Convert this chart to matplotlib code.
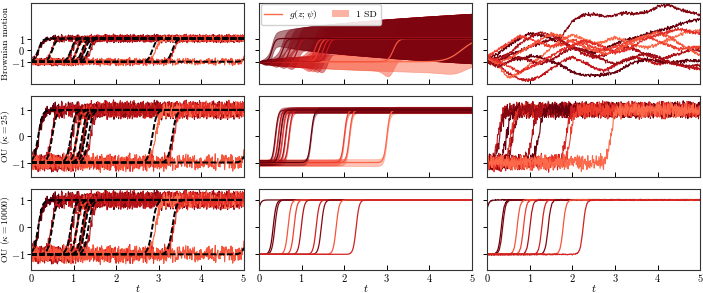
import numpy as np
import matplotlib
matplotlib.use("Agg")
import matplotlib.pyplot as plt
from matplotlib.lines import Line2D
from matplotlib.patches import Patch

plt.rcParams.update({
    "font.family": "serif",
    "font.serif": ["cmr10"],
    "mathtext.fontset": "cm",
    "axes.formatter.use_mathtext": True,
    "font.size": 8,
})

# time grid of the simulated paths
t = np.linspace(0.0, 5.0, 501)

# hand-read jitter values (used for the rough look of the sample paths)
jitter = [0.3, -0.8, 1.1, -0.2, 0.6, -1.3, 0.4, 0.9, -0.5, -1.0, 0.7, 0.1, -0.6, 1.4, -0.9,
          0.2, -0.3, 0.8, -1.2, 0.5, 1.0, -0.4, -0.7, 0.3, 1.2, -1.1, 0.0, 0.6, -0.8, 0.9,
          -0.2, -1.4, 0.7, 0.4, -0.5, 1.3, -0.9, 0.1, 0.5, -0.6, -1.0, 0.8, 0.2, -0.3, 1.1,
          -0.7, 0.6, -1.2, 0.3, 0.9, -0.1, -0.8, 1.0, -0.4, 0.5, -1.3, 0.2, 0.7, -0.6, 1.2,
          -0.9, -0.2, 0.4, 0.8, -1.1, 0.1, -0.5, 1.3, -0.3, 0.6, -0.7, 0.9, -1.0, 0.0, 0.5,
          -0.4, 1.1, -1.2, 0.3, -0.8, 0.7, 0.2, -0.6, 1.0, -0.1, -0.9, 0.6, -1.3, 0.8, 0.4,
          -0.2, 1.2, -0.7, -0.4, 0.9, -1.0, 0.1, 0.5, -0.5, 1.4, -0.8]

# left column: observed switching paths (same data in all three rows)
left_switch = [0.17, 0.5, 0.94, 1.08, 1.2, 1.27, 1.35, 2.85, 3.32, 5.1]
left_lag = [0.02, -0.02, 0.03, 0.0, 0.04, -0.03, 0.05, 0.08, 0.03, 0.0]
left_colors = [9, 5, 7, 2, 8, 4, 6, 0, 3, 1]

# middle column, Brownian motion prior: mean g(z; psi) with 1 SD band
mid1_switch = [0.3, 0.55, 0.72, 0.9, 1.3, 1.4, 1.5, 1.6, 3.15, 4.75]
mid1_width = [0.08, 0.1, 0.1, 0.1, 0.1, 0.1, 0.1, 0.1, 0.12, 0.35]
mid1_colors = [9, 8, 7, 6, 3, 2, 4, 5, 1, 0]

# middle column, OU kappa=25
mid2_switch = [0.38, 0.45, 0.5, 0.55, 0.62, 0.7, 1.22, 2.0, 2.12, 3.0]
mid2_sd = [0.1, 0.1, 0.1, 0.1, 0.1, 0.1, 0.1, 0.11, 0.11, 0.13]
mid2_colors = [8, 5, 9, 3, 6, 4, 9, 2, 1, 0]

# middle / right column, OU kappa=10000
mid3_switch = [-0.06, 0.33, 0.37, 0.68, 0.82, 0.99, 1.34, 1.46, 1.81, 2.28]
right3_switch = [-0.06, 0.33, 0.36, 0.7, 0.85, 1.0, 1.28, 1.43, 1.78, 2.25]
row3_colors = [9, 9, 8, 1, 2, 6, 4, 8, 1, 4]

# right column, OU kappa=25 samples
right2_switch = [0.25, 0.3, 0.45, 0.55, 0.6, 1.05, 1.2, 1.85, 1.95, 2.9]
right2_colors = [5, 8, 9, 3, 7, 6, 9, 4, 2, 0]

# right column, Brownian motion samples read every 0.25 time units
bm_times = np.arange(21) * 0.25
bm_paths = [
    [-0.9, -0.6, -0.4, -0.1, 0.3, 0.6, 0.9, 1.2, 2.5, 3.0, 3.1, 2.9, 3.0, 3.2, 3.1, 3.3, 3.7, 3.9, 3.5, 3.3, 3.0],
    [-0.8, -0.3, 0.4, 1.0, 1.4, 1.3, 1.0, 0.6, 0.2, 0.0, -0.2, 0.1, 0.5, 0.9, 1.1, 1.4, 1.6, 1.9, 2.2, 2.5, 2.6],
    [-1.0, -1.2, -2.0, -2.5, -2.6, -2.2, -1.6, -1.0, -0.6, -1.0, -1.5, -1.8, -1.3, -0.8, -0.6, -0.9, -1.2, -1.0, -1.3, -1.5, -1.6],
    [-0.7, -1.3, -2.4, -2.0, -1.2, -0.6, 0.2, 0.9, 1.3, 1.0, 0.6, 0.7, 1.1, 0.8, 0.4, 0.2, 0.5, 0.9, 1.3, 1.6, 1.7],
    [-1.0, -0.9, -0.6, -0.8, -0.5, -0.6, -1.0, -1.3, -1.9, -2.1, -2.2, -2.1, -1.9, -1.4, -1.0, -0.8, -0.9, -1.1, -1.0, -0.9, -0.9],
    [-0.5, 0.0, 0.6, 1.2, 1.0, 0.6, 0.3, 0.5, 0.9, 0.6, 0.2, 0.0, 0.3, 0.6, 0.9, 1.2, 0.8, 0.4, 0.1, 0.2, 0.3],
    [-1.2, -0.9, -0.3, 0.5, 1.1, 1.5, 1.3, 0.8, 0.2, -0.3, -0.6, -0.4, 0.0, 0.3, 0.0, -0.4, -0.8, -0.6, -0.3, 0.0, 0.0],
    [-0.8, -1.1, -0.7, -0.2, 0.3, 0.9, 1.4, 1.2, 0.7, 0.3, 0.0, -0.3, -0.1, 0.4, 0.9, 1.3, 1.5, 1.2, 0.6, 0.1, -0.5],
    [-1.0, -1.4, -1.0, -0.6, -0.9, -1.2, -0.8, -0.3, 0.2, 0.0, -0.4, -0.9, -1.2, -0.9, -0.5, -0.3, -0.6, -1.0, -1.2, -1.4, -1.3],
    [-0.6, -0.9, -1.4, -1.9, -1.5, -1.0, -0.5, 0.0, 0.4, 0.8, 0.6, 0.2, -0.2, 0.0, 0.5, 1.0, 1.3, 1.6, 1.8, 1.6, 1.4],
]
bm_colors = [8, 9, 5, 0, 9, 2, 6, 1, 7, 3]

row_labels = ["Brownian motion", r"OU ($\kappa = 25$)", r"OU ($\kappa = 10000$)"]
row_ylims = [(-2.9, 4.05), (-1.55, 1.53), (-1.58, 1.4)]

palette = plt.cm.Reds(np.linspace(0.5, 1.0, 10))
jit = np.array(jitter)


def rough(k, off):
    i = np.arange(t.size)
    a = jit[(i * 7 + k * 11 + off) % len(jit)]
    b = jit[(i * 5 + k * 17 + 3 * off) % 89]
    return (a + 0.6 * b) / 1.17


def switch(ts, w):
    return np.tanh((t - ts) / w)


fig = plt.figure(figsize=(7.03, 2.93), dpi=100)
axes = fig.subplots(3, 3, sharex=True, sharey="row")
fig.subplots_adjust(left=0.044, right=0.996, top=0.99, bottom=0.078, wspace=0.072, hspace=0.148)

# left column
for r in range(3):
    ax = axes[r, 0]
    for k, ts in enumerate(left_switch):
        y = switch(ts + left_lag[k], 0.1) + 0.2 * rough(k, 3)
        ax.plot(t, y, color=palette[left_colors[k]], lw=0.8)
    for ts in left_switch:
        ax.plot(t, switch(ts, 0.1), color="black", lw=1.4, ls=(0, (3, 1.2)))

# middle, Brownian motion: bands, lightest drawn first so the dark ones sit on top
ax = axes[0, 1]
order = np.argsort(mid1_colors)
for k in order:
    ts = mid1_switch[k]
    mean = switch(ts, mid1_width[k])
    prog = (np.tanh((t + 0.2 - ts) / mid1_width[k]) + 1) / 2
    sd = np.sqrt(t) * (0.45 + 0.5 * prog)
    c = palette[mid1_colors[k]]
    ax.fill_between(t, mean - sd, mean + sd, color=c, alpha=0.5, lw=0.5)
for k in order:
    ax.plot(t, switch(mid1_switch[k], mid1_width[k]), color=palette[mid1_colors[k]], lw=0.9)
ax.legend([Line2D([], [], color=palette[0], lw=1.0), Patch(facecolor=palette[0], alpha=0.5)],
          [r"$g(z;\psi)$", "1 SD"], loc="upper left", ncol=2, fontsize=7,
          handlelength=1.8, columnspacing=1.5, handletextpad=0.7, borderaxespad=0.15,
          framealpha=0.9)

# middle, OU kappa=25
ax = axes[1, 1]
for k in np.argsort(mid2_colors):
    mean = switch(mid2_switch[k], 0.07)
    c = palette[mid2_colors[k]]
    ax.fill_between(t, mean - mid2_sd[k], mean + mid2_sd[k], color=c, alpha=0.4, lw=0.5)
    ax.plot(t, mean, color=c, lw=0.9)

# middle, OU kappa=10000
ax = axes[2, 1]
for k, ts in enumerate(mid3_switch):
    ax.plot(t, switch(ts, 0.07), color=palette[row3_colors[k]], lw=0.9)

# right, Brownian motion
ax = axes[0, 2]
for k, path in enumerate(bm_paths):
    y = np.interp(t, bm_times, path) + 0.1 * rough(k, 41)
    ax.plot(t, y, color=palette[bm_colors[k]], lw=0.8)

# right, OU kappa=25
ax = axes[1, 2]
for k, ts in enumerate(right2_switch):
    y = switch(ts, 0.1) + 0.19 * rough(k, 57)
    ax.plot(t, y, color=palette[right2_colors[k]], lw=0.8)

# right, OU kappa=10000
ax = axes[2, 2]
for k, ts in enumerate(right3_switch):
    y = switch(ts, 0.07) + 0.012 * rough(k, 71)
    ax.plot(t, y, color=palette[row3_colors[k]], lw=0.9)

for r in range(3):
    lab = axes[r, 0].set_ylabel(row_labels[r], fontsize=7)
    lab.set_verticalalignment("center")
    axes[r, 0].yaxis.set_label_coords(-0.12, 0.5)
    axes[r, 0].set_ylim(*row_ylims[r])
    for c in range(3):
        ax = axes[r, c]
        ax.set_xlim(0, 5)
        ax.set_yticks([-1, 0, 1])
        ax.set_xticks([0, 1, 2, 3, 4, 5])
        ax.tick_params(axis="x", direction="in", length=3.5, width=0.7, pad=1.5, labelsize=7.5)
        ax.tick_params(axis="y", direction="out", length=3, width=0.7, pad=1.2, labelsize=7.5)
        for s in ax.spines.values():
            s.set_linewidth(0.8)
            s.set_color("#333333")
        if c > 0:
            ax.tick_params(axis="y", labelleft=False)
        if r == 2:
            ax.set_xlabel("$t$")
            ax.xaxis.set_label_coords(0.5, -0.16)

fig.savefig("out.png", dpi=100)
